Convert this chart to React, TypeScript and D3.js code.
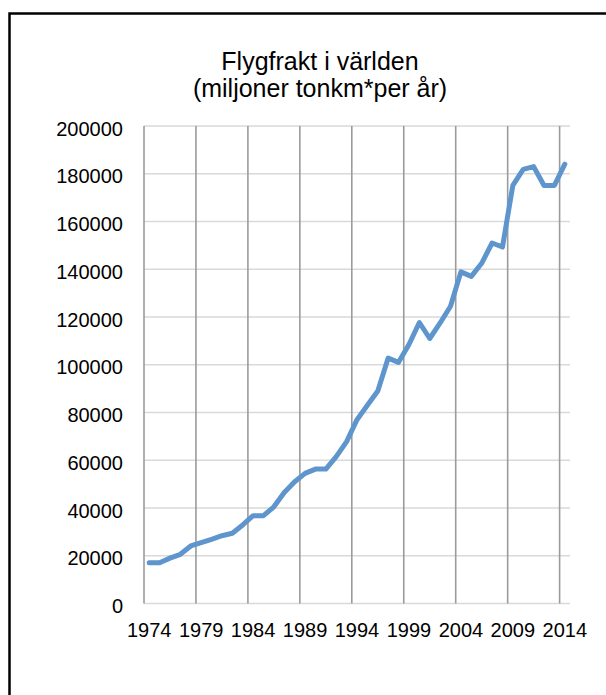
import React from "react";
import * as d3 from "d3";

const years: number[] = [
  1974, 1975, 1976, 1977, 1978, 1979, 1980, 1981, 1982, 1983,
  1984, 1985, 1986, 1987, 1988, 1989, 1990, 1991, 1992, 1993,
  1994, 1995, 1996, 1997, 1998, 1999, 2000, 2001, 2002, 2003,
  2004, 2005, 2006, 2007, 2008, 2009, 2010, 2011, 2012, 2013, 2014,
];

const freight: number[] = [
  17100, 17100, 19000, 20600, 24100, 25500, 26900, 28400, 29400, 32900,
  36800, 36800, 40500, 46500, 51000, 54500, 56300, 56300, 61500, 67800,
  77000, 83000, 89000, 102800, 101000, 108500, 117700, 111000, 117500, 124500,
  138900, 137000, 142500, 151000, 149300, 175100, 181800, 183000, 175100, 175100, 184000,
];

const yTicks: number[] = [0, 20000, 40000, 60000, 80000, 100000, 120000, 140000, 160000, 180000, 200000];
const xLabelYears: number[] = [1974, 1979, 1984, 1989, 1994, 1999, 2004, 2009, 2014];
const titleLines: string[] = ["Flygfrakt i världen", "(miljoner tonkm*per år)"];

const FONT = "'Liberation Sans', Arial, Helvetica, sans-serif";

export default function App() {
  const W = 606;
  const H = 695;
  const left = 144;
  const right = 570;
  const top = 126;
  const bottom = 603.5;

  const x = d3.scaleBand<number>().domain(years).range([left, right]).paddingInner(0).paddingOuter(0);
  const y = d3.scaleLinear().domain([0, 200000]).range([bottom, top]);
  const cx = (yr: number) => (x(yr) as number) + x.bandwidth() / 2;

  const line = d3
    .line<number>()
    .x((_, i) => cx(years[i]))
    .y((d) => y(d));

  const vGrid = xLabelYears.map((yr) => x(yr) as number);

  return (
    <svg
      width={W}
      height={H}
      style={{ position: "absolute", left: 0, top: 0, background: "#fff" }}
      fontFamily={FONT}
    >
      <rect x={0} y={0} width={W} height={H} fill="#fff" />
      <rect x={9.5} y={13.5} width={W + 20} height={H + 20} fill="none" stroke="#000" strokeWidth={2.5} />

      {titleLines.map((t, i) => (
        <text key={t} x={320} y={70 + i * 27} textAnchor="middle" fontSize={25} fill="#000">
          {t}
        </text>
      ))}

      {yTicks.map((v) => (
        <line key={"h" + v} x1={left} x2={right} y1={y(v)} y2={y(v)} stroke="#d9d9d9" strokeWidth={1.6} />
      ))}
      {vGrid.map((gx, i) => (
        <line key={"v" + i} x1={gx} x2={gx} y1={top} y2={bottom} stroke="#9b9b9b" strokeWidth={1.6} />
      ))}

      {yTicks.map((v) => (
        <text key={"yl" + v} x={123} y={y(v) + 9.5} textAnchor="end" fontSize={20} fill="#000">
          {v}
        </text>
      ))}
      {xLabelYears.map((yr) => (
        <text key={"xl" + yr} x={cx(yr)} y={636.7} textAnchor="middle" fontSize={20} fill="#000">
          {yr}
        </text>
      ))}

      <path
        d={line(freight) || ""}
        fill="none"
        stroke="#5e95cc"
        strokeWidth={5}
        strokeLinejoin="round"
        strokeLinecap="round"
      />
    </svg>
  );
}
